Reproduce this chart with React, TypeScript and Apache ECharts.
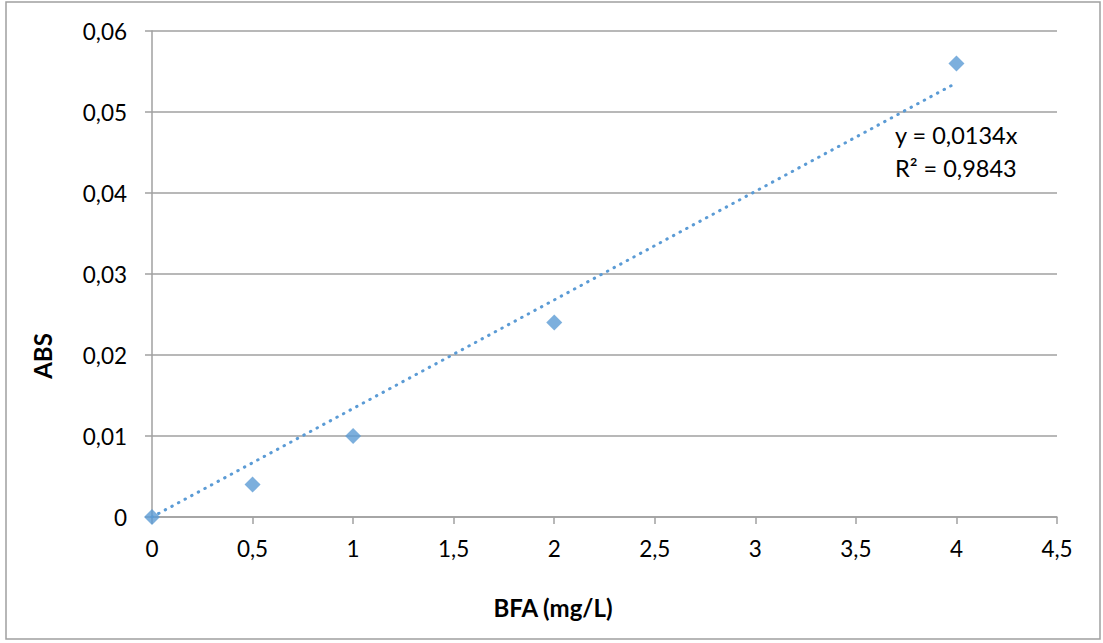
import React, { useEffect, useRef } from "react";
import * as echarts from "echarts";

const bfa = [0, 0.5, 1, 2, 4];
const abs = [0, 0.004, 0.01, 0.024, 0.056];
const trendX = [0, 4];
const trendY = [0, 0.0536];
const equationLines = ["y = 0,0134x", "R² = 0,9843"];
const xTitle = "BFA (mg/L)";
const yTitle = "ABS";

const FONT = "Lato, 'Open Sans', sans-serif";
const fmt = (v: number) => String(+v.toFixed(4)).replace(".", ",");

export default function App() {
  const ref = useRef<HTMLDivElement>(null);
  useEffect(() => {
    const chart = echarts.init(ref.current!, null, { renderer: "svg" });
    chart.setOption({
      animation: false,
      backgroundColor: "#ffffff",
      grid: { left: 152, right: 46, top: 31, bottom: 126 },
      xAxis: {
        type: "value",
        min: 0,
        max: 4.5,
        interval: 0.5,
        axisLine: { show: true, lineStyle: { color: "#a0a0a0", width: 1.5 } },
        axisTick: { show: true, length: 7, lineStyle: { color: "#a0a0a0", width: 1.5 } },
        splitLine: { show: false },
        axisLabel: { color: "#000", fontSize: 22.5, fontFamily: FONT, margin: 20, formatter: fmt },
      },
      yAxis: {
        type: "value",
        min: 0,
        max: 0.06,
        interval: 0.01,
        axisLine: { show: true, lineStyle: { color: "#a0a0a0", width: 1.5 } },
        axisTick: { show: true, length: 7, lineStyle: { color: "#a0a0a0", width: 1.5 } },
        splitLine: { show: true, lineStyle: { color: "#a0a0a0", width: 1.5 } },
        axisLabel: { color: "#000", fontSize: 22.5, fontFamily: FONT, margin: 25, formatter: fmt },
      },
      series: [
        {
          type: "line",
          data: trendX.map((x, i) => [x, trendY[i]]),
          showSymbol: false,
          symbol: "none",
          lineStyle: { color: "#5b9bd5", width: 3, type: [0.5, 7], cap: "round" },
          z: 2,
        },
        {
          type: "scatter",
          data: bfa.map((x, i) => [x, abs[i]]),
          symbol: "diamond",
          symbolSize: 16,
          itemStyle: { color: "#5b9bd5" },
          z: 3,
        },
      ],
      graphic: [
        {
          type: "rect",
          shape: { x: 6, y: 2, width: 1094, height: 637 },
          style: { fill: "none", stroke: "#a0a0a0", lineWidth: 1.5 },
          silent: true,
        },
        {
          type: "text",
          x: 895,
          y: 135,
          style: { text: equationLines[0], fontSize: 23.5, fontFamily: FONT, fill: "#000", textVerticalAlign: "middle" },
        },
        {
          type: "text",
          x: 895,
          y: 168,
          style: { text: equationLines[1], fontSize: 23.5, fontFamily: FONT, fill: "#000", textVerticalAlign: "middle" },
        },
        {
          type: "text",
          x: 553,
          y: 607,
          style: {
            text: xTitle,
            fontSize: 24,
            fontWeight: "bold",
            fontFamily: FONT,
            fill: "#000",
            textAlign: "center",
            textVerticalAlign: "middle",
          },
        },
        {
          type: "text",
          x: 42,
          y: 356,
          rotation: Math.PI / 2,
          style: {
            text: yTitle,
            fontSize: 24,
            fontWeight: "bold",
            fontFamily: FONT,
            fill: "#000",
            textAlign: "center",
            textVerticalAlign: "middle",
          },
        },
      ],
    });
    return () => chart.dispose();
  }, []);
  return (
    <div
      ref={ref}
      style={{ position: "fixed", left: 0, top: 0, width: 1103, height: 643, background: "#fff" }}
    />
  );
}
